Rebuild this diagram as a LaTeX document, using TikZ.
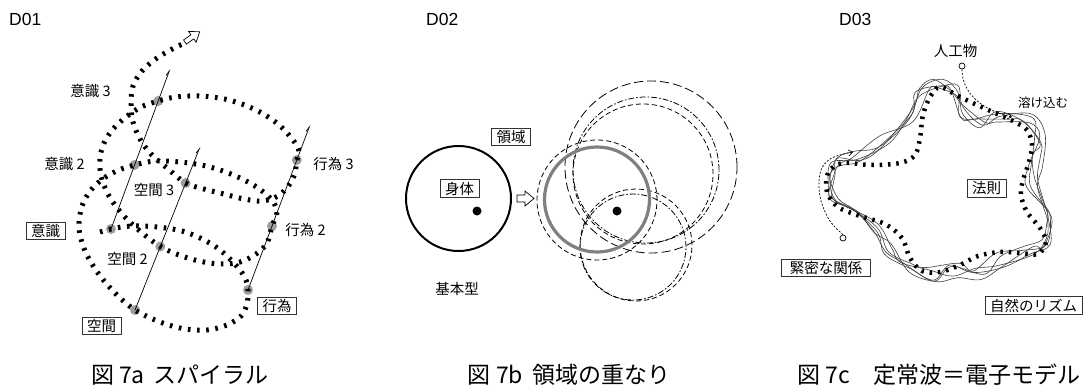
\documentclass[tikz,border=0pt]{standalone}
\usepackage{fontspec}
\setmainfont{Noto Sans CJK JP}
\newfontfamily\hdrfont{Liberation Sans}
\usetikzlibrary{arrows.meta}
\begin{document}
\begin{tikzpicture}[x=1pt,y=-1pt,
  lbl/.style={inner sep=0pt,font=\fontsize{14.5}{15}\selectfont},
  boxlbl/.style={draw=black!80,line width=0.7pt,inner xsep=5pt,inner ysep=0pt,minimum height=17.5pt,font=\fontsize{14.5}{15}\selectfont},
  hdr/.style={inner sep=0pt,anchor=west,font=\hdrfont\fontsize{17.5}{18}\selectfont},
  ttl/.style={inner sep=0pt,font=\fontsize{23}{24}\selectfont},
  spiraldots/.style={line width=5pt,dash pattern=on 2.6pt off 6.6pt},
  lawdots/.style={line width=4.5pt,dash pattern=on 2.5pt off 5.8pt},
  axisline/.style={line width=0.7pt,-{Straight Barb[harpoon,length=5pt,width=3pt]}},
  gdot/.style={fill=black!38,draw=none},
  thinwave/.style={line width=0.6pt,draw=black!75},
  dashA/.style={line width=0.8pt,dash pattern=on 9pt off 4pt},
  dashB/.style={line width=0.8pt,dash pattern=on 5pt off 3pt},
  dashdot/.style={line width=0.8pt,dash pattern=on 6pt off 2pt on 1.5pt off 2pt},
  darr/.style={line width=0.7pt,dash pattern=on 2pt off 1.6pt},
  openarrow/.style={draw=black,line width=0.7pt,fill=white}
]
\useasboundingbox (0,0) rectangle (1088,389);

% ================= D01 =================
\node[hdr] (h1) at (9,19) {D01};
\coordinate (I1) at (111,229);
\coordinate (I2) at (134.6,165);
\coordinate (I3) at (158.2,101);
\coordinate (It) at (170,69);
\coordinate (S1) at (135,310);
\coordinate (S2) at (160.3,246.5);
\coordinate (S3) at (185.6,183);
\coordinate (St) at (200,147);
\coordinate (A1) at (248,290);
\coordinate (A2) at (272,226);
\coordinate (A3) at (296.8,160);
\coordinate (At) at (310,125);
\foreach \p in {I1,I2,I3,S1,S2,S3,A1,A2,A3} \fill[gdot] (\p) circle[radius=5pt];
\draw[axisline] (I1) -- (It);
\draw[axisline] (S1) -- (St);
\draw[axisline] (A1) -- (At);
\draw[spiraldots] plot[smooth,tension=0.55] coordinates {
 (100,232) (I1) (125,226.5) (142,226) (162,227.5) (182,231) (200,238) (216,247) (229,258) (240,270) (246,280) (A1)
 (247,304) (241,316) (227,325) (207,330) (185,329) (160,322) (S1)
 (115,293) (98,273) (85,251) (79,228) (82,206) (91,190) (104,178) (119,170) (I2)
 (155,161) (180,162) (206,166) (231,174) (255,186) (271,199) (277,212) (A2)
 (267,243) (256,254) (240,262) (220,264) (199,261) (179,255) (S2)
 (141,232) (123,215) (109,196) (101,176) (100,158) (104,143) (113,129) (126,117) (141,107) (I3)
 (176,97) (201,96) (229,100) (256,110) (278,124) (293,140) (299,151) (A3)
 (295,173) (289,185) (278,196) (262,201) (244,199) (224,194) (204,189) (S3)
 (167,168) (151,154) (140,139) (133,122) (131,104) (133,86) (142,71) (157,58) (174,48) (183,44)};
\begin{scope}[shift={(185,42)},rotate=35]
  \draw[openarrow] (0,-2.5) -- (9,-2.5) -- (9,-6.5) -- (18,0) -- (9,6.5) -- (9,2.5) -- (0,2.5) -- cycle;
\end{scope}
\node[lbl] (l3) at (90.5,91) {意識 3};
\node[lbl] (l2) at (64.5,164) {意識 2};
\node[lbl] (k3) at (154,190) {空間 3};
\node[lbl] (a3) at (333.5,164) {行為 3};
\node[lbl] (k2) at (127.5,258.5) {空間 2};
\node[lbl] (a2) at (305.5,230) {行為 2};
\node[boxlbl] (bi) at (45.5,231) {意識};
\node[boxlbl] (ba) at (277,306) {行為};
\node[boxlbl] (bs) at (101.5,326) {空間};
\node[ttl] (t1) at (180,375) {図 7a\, スパイラル};

% ================= D02 =================
\node[hdr] (h2) at (426,19) {D02};
\draw[line width=2pt] (458.5,198.5) circle[radius=52.5pt];
\fill (477,211) circle[radius=4.5pt];
\node[boxlbl] (body) at (459.5,188.5) {身体};
\node[boxlbl] (area) at (511,137) {領域};
\node[lbl] (basic) at (457,289) {基本型};
\draw[openarrow] (517,195) -- (525,195) -- (525,191) -- (534,198.5) -- (525,206) -- (525,202) -- (517,202) -- cycle;
\draw[dashA] (651,167) circle[radius=86pt];
\draw[dashdot] (646,170) circle[radius=73pt];
\draw[dashB] (643,174) circle[radius=70pt];
\draw[dashB] (597,200) circle[radius=60pt];
\draw[dashB] (636,245) circle[radius=56pt];
\draw[dashdot] (633,247) circle[radius=53pt];
\draw[line width=3.2pt,draw=black!50] (597,199.5) circle[radius=52.5pt];
\fill (617,211) circle[radius=4.5pt];
\node[ttl] (t2) at (569,375) {図 7b\, 領域の重なり};

% ================= D03 =================
\node[hdr] (h3) at (839,19) {D03};
\foreach \s in {5,13,21,34,58} {
  \pgfmathsetseed{\s}
  \draw[thinwave] plot[smooth cycle,tension=0.6] coordinates {
   ({940+7*rand},{83+5*rand}) ({952+7*rand},{92+7*rand}) ({962+7*rand},{110+8*rand}) ({980+7*rand},{121+7*rand})
   ({1003+7*rand},{117+7*rand}) ({1027+7*rand},{121+7*rand}) ({1040+6*rand},{138+7*rand}) ({1036+8*rand},{160+7*rand})
   ({1030+8*rand},{183+7*rand}) ({1040+8*rand},{203+7*rand}) ({1050+5*rand},{222+7*rand}) ({1047+6*rand},{243+6*rand})
   ({1028+7*rand},{252+7*rand}) ({1003+7*rand},{260+8*rand}) ({978+7*rand},{274+8*rand}) ({955+7*rand},{270+8*rand})
   ({930+7*rand},{275+8*rand}) ({905+7*rand},{267+7*rand}) ({890+8*rand},{250+7*rand}) ({873+8*rand},{230+7*rand})
   ({850+7*rand},{214+7*rand}) ({835+6*rand},{200+7*rand}) ({832+6*rand},{180+7*rand}) ({837+6*rand},{163+6*rand})
   ({858+7*rand},{156+7*rand}) ({885+8*rand},{140+7*rand}) ({905+8*rand},{115+7*rand}) ({922+7*rand},{92+6*rand})};
}
\draw[lawdots] plot[smooth cycle,tension=0.55] coordinates {
 (940,87) (958,96) (975,104) (995,113) (1013,121) (1027,130) (1032,145) (1029,162) (1023,180) (1021,195)
 (1027,212) (1040,228) (1046,242) (1038,254) (1020,253) (1000,252) (978,256) (960,265) (940,272) (922,271)
 (910,258) (902,238) (885,224) (860,216) (838,207) (827,192) (828,173) (842,163) (870,165) (900,163)
 (915,155) (920,138) (923,115) (930,97)};
\node[lbl] (art) at (955.5,51) {人工物};
\node[draw,circle,inner sep=0pt,minimum size=6pt,line width=0.7pt,fill=white] (c1) at (962,66) {};
\coordinate (e1) at (1012,117);
\draw[darr,-{Straight Barb[length=4pt,width=6pt]}] (c1.south) .. controls (962,95) and (985,111) .. (e1);
\node[lbl,font=\fontsize{12.5}{13}\selectfont] (melt) at (1043,103) {溶け込む};
\node[draw,circle,inner sep=0pt,minimum size=6pt,line width=0.7pt,fill=white] (c2) at (843,238) {};
\coordinate (e2) at (853,152);
\draw[darr,-{Straight Barb[length=4pt,width=6pt]}] plot[smooth,tension=0.6] coordinates {(c2.north) (830,221) (821,201) (819,181) (823,166) (834,157) (e2)};
\node[boxlbl,fill=white] (law) at (986.5,188.5) {法則};
\node[boxlbl,inner xsep=8pt] (close) at (826,268) {緊密な関係};
\node[boxlbl] (rhythm) at (1033.5,305.5) {自然のリズム};
\node[ttl] (t3) at (939,375) {図 7c　定常波＝電子モデル};
\end{tikzpicture}
\end{document}
